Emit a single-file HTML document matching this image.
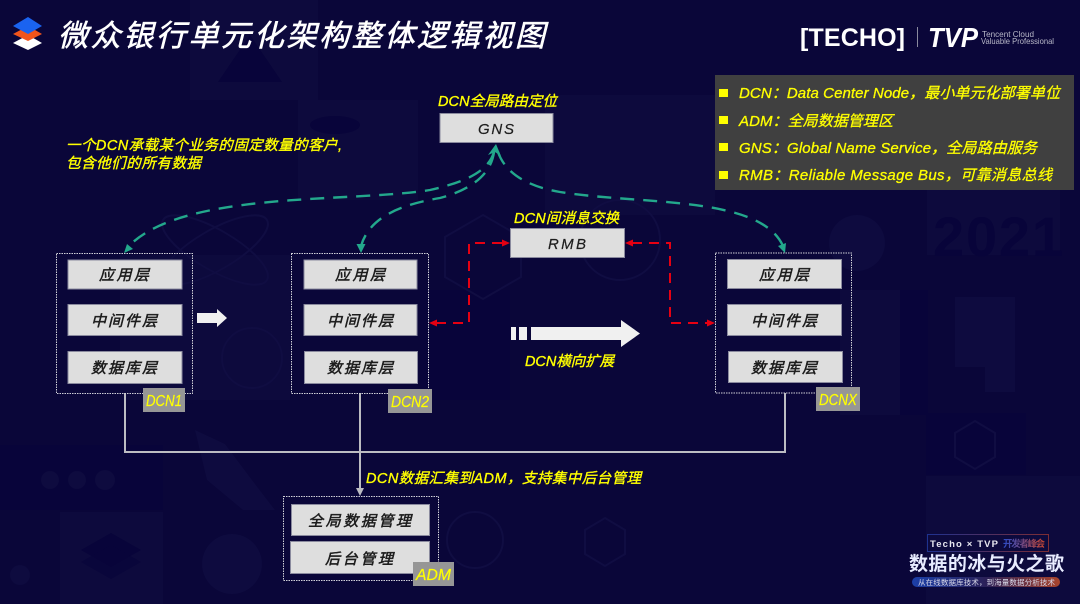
<!DOCTYPE html>
<html><head><meta charset="utf-8">
<style>
html,body{margin:0;padding:0;background:#0a0639;width:1080px;height:604px;overflow:hidden}
svg{display:block}
text{font-family:"Liberation Sans","Noto Sans CJK SC",sans-serif;font-style:italic}
.y{fill:#ffff00;font-size:14.5px;stroke:#ffff00;stroke-width:.35}
.l{fill:#ffff00;font-size:15px;stroke:#ffff00;stroke-width:.3}
.b{fill:#1c1c1c;font-size:15px;stroke:#1c1c1c;stroke-width:.5}
.box{fill:#dedede;stroke:#8a8a9e;stroke-width:1}
.dot{fill:none;stroke:#d0d0d8;stroke-width:1;stroke-dasharray:1.5 1}
.tag{fill:#969696}
.t{fill:#ffff00;font-size:16px;stroke:#ffff00;stroke-width:.2}
.g{fill:none;stroke:#23a88c;stroke-width:2.4;stroke-dasharray:14 9}
.r{fill:none;stroke:#e60012;stroke-width:2;stroke-dasharray:10 7}
</style></head><body>
<svg width="1080" height="604" viewBox="0 0 1080 604" xmlns="http://www.w3.org/2000/svg">
<defs>
<linearGradient id="pill" x1="0" x2="1" y1="0" y2="0"><stop offset="0" stop-color="#1c3fa8"/><stop offset=".5" stop-color="#2a2058"/><stop offset="1" stop-color="#a8442c"/></linearGradient>
<linearGradient id="pill2" x1="0" x2="1" y1="0" y2="0"><stop offset="0" stop-color="#2a4cc8"/><stop offset="1" stop-color="#c8452c"/></linearGradient>
</defs>
<rect width="1080" height="604" fill="#0a0639"/>
<!-- faint background tiles -->
<g fill="#0d0a3d">
<rect x="190" y="0" width="128" height="100"/>
<rect x="298" y="100" width="120" height="100"/>
<rect x="60" y="512" width="103" height="92"/>
<rect x="927" y="190" width="133" height="65"/>
<rect x="840" y="290" width="60" height="125"/>
<rect x="926" y="476" width="154" height="128"/>
<rect x="545" y="95" width="170" height="120"/>
<rect x="120" y="255" width="170" height="145"/>
</g>
<g fill="#08043a">
<rect x="0" y="445" width="163" height="65"/>
<rect x="900" y="290" width="28" height="125"/>
<rect x="926" y="413" width="100" height="62"/>
<rect x="420" y="290" width="90" height="110"/>
<path d="M250 35l-32 47h64z"/>
<ellipse cx="335" cy="125" rx="25" ry="9"/>
<path d="M111 533l30 17-30 17-30-17z"/>
<path d="M111 545l30 17-30 17-30-17z" opacity=".7"/>
</g>
<g fill="#0e0b3f">
<circle cx="50" cy="480" r="9"/><circle cx="77" cy="480" r="9"/><circle cx="105" cy="480" r="10"/>
<circle cx="232" cy="564" r="30"/>
<circle cx="857" cy="243" r="28"/>
<path d="M195 430l30 14 30 40 20 26h-32l-36-30z"/>
<path d="M955 297h60v95h-30v-25h-30z"/>
<circle cx="20" cy="575" r="10"/>
</g>
<g fill="none" stroke="#100d42" stroke-width="2">
<ellipse cx="215" cy="250" rx="60" ry="20" transform="rotate(30 215 250)"/>
<ellipse cx="215" cy="250" rx="60" ry="20" transform="rotate(-30 215 250)"/>
<path d="M483 215l38 22v40l-38 22-38-22v-40z"/>
<path d="M975 421l20 12v24l-20 12-20-12v-24z"/>
<path d="M605 518l20 12v24l-20 12-20-12v-24z"/>
<circle cx="475" cy="540" r="28"/>
<circle cx="252" cy="358" r="30"/>
<circle cx="620" cy="240" r="40"/>
</g>
<text x="933" y="256" font-size="56" font-weight="700" fill="#08043a" style="font-style:normal" textLength="130">2021</text>

<!-- logo -->
<path d="M13 43l15-8 14 8-14 7z" fill="#fff"/>
<path d="M13 34l15-8 14 8-14 7z" fill="#f2541b"/>
<path d="M13 26l15-9 14 9-14 8z" fill="#1a63f0"/>
<text x="58" y="46" font-size="30" fill="#fff" stroke="#fff" stroke-width=".6" textLength="487">微众银行单元化架构整体逻辑视图</text>

<!-- top right brand -->
<text x="800" y="46" font-size="25" font-weight="700" fill="#fff" style="font-style:normal" textLength="105" lengthAdjust="spacing">[TECHO]</text>
<rect x="917" y="27" width="1" height="20" fill="#8a8a9e"/>
<text x="928" y="47" font-size="28" font-weight="700" fill="#fff" textLength="50" lengthAdjust="spacingAndGlyphs">TVP</text>
<text x="982" y="37" font-size="8.500" fill="#b8b8c8" style="font-style:normal" textLength="52" lengthAdjust="spacingAndGlyphs">Tencent Cloud</text>
<text x="981" y="44" font-size="8.500" fill="#b8b8c8" style="font-style:normal" textLength="73" lengthAdjust="spacingAndGlyphs">Valuable Professional</text>

<!-- legend -->
<rect x="715" y="75" width="359" height="115" fill="#404040"/>
<g fill="#ffff00"><rect x="719" y="89" width="9" height="8"/><rect x="719" y="116" width="9" height="8"/><rect x="719" y="143" width="9" height="8"/><rect x="719" y="171" width="9" height="8"/></g>
<text class="l" x="739" y="98" textLength="321">DCN：Data Center Node，最小单元化部署单位</text>
<text class="l" x="739" y="126" textLength="154">ADM：全局数据管理区</text>
<text class="l" x="739" y="153" textLength="298">GNS：Global Name Service，全局路由服务</text>
<text class="l" x="739" y="180" textLength="313">RMB：Reliable Message Bus，可靠消息总线</text>

<!-- yellow captions -->
<text class="y" x="438" y="106" textLength="119">DCN全局路由定位</text>
<text class="y" x="66" y="150" textLength="276">一个DCN承载某个业务的固定数量的客户,</text>
<text class="y" x="66" y="168" textLength="135">包含他们的所有数据</text>
<text class="y" x="514" y="223" textLength="105">DCN间消息交换</text>
<text class="y" x="525" y="366" textLength="89">DCN横向扩展</text>
<text class="y" x="366" y="483" textLength="275">DCN数据汇集到ADM，支持集中后台管理</text>

<!-- GNS / RMB -->
<rect class="box" x="440" y="113.500" width="113" height="29"/>
<text class="b" x="478" y="134" textLength="36" style="stroke-width:.2">GNS</text>
<rect class="box" x="510.500" y="228.500" width="114" height="29"/>
<text class="b" x="548" y="249" textLength="38" style="stroke-width:.2">RMB</text>

<!-- gray bus lines -->
<g fill="none" stroke="#bcbcc2" stroke-width="2">
<path d="M125 393V452H785V393"/>
<path d="M360 393V488"/>
</g>
<path d="M356 488h8l-4 8z" fill="#bcbcc2"/>

<!-- DCN1 -->
<rect class="dot" x="56.500" y="253.500" width="136" height="140"/>
<rect class="box" x="68" y="260" width="114" height="29"/>
<rect class="box" x="68" y="304.500" width="114" height="31"/>
<rect class="box" x="68" y="351.500" width="114" height="32"/>
<text class="b" x="99" y="280" textLength="50">应用层</text>
<text class="b" x="91" y="326" textLength="66">中间件层</text>
<text class="b" x="91" y="373" textLength="66">数据库层</text>
<rect class="tag" x="143" y="388" width="42" height="24"/>
<text class="t" x="146" y="406" textLength="36" lengthAdjust="spacingAndGlyphs">DCN1</text>

<!-- DCN2 -->
<rect class="dot" x="291.500" y="253.500" width="137" height="140"/>
<rect class="box" x="304" y="260" width="113" height="29"/>
<rect class="box" x="304" y="304.500" width="113" height="31"/>
<rect class="box" x="304.500" y="351.500" width="113" height="32"/>
<text class="b" x="335" y="280" textLength="50">应用层</text>
<text class="b" x="327" y="326" textLength="66">中间件层</text>
<text class="b" x="327" y="373" textLength="66">数据库层</text>
<rect class="tag" x="388" y="389" width="44" height="24"/>
<text class="t" x="391" y="407" textLength="38" lengthAdjust="spacingAndGlyphs">DCN2</text>

<!-- DCNX -->
<rect class="dot" x="715.500" y="253" width="136" height="140"/>
<rect class="box" x="727.500" y="259.500" width="114" height="29"/>
<rect class="box" x="727.500" y="304.500" width="114" height="31"/>
<rect class="box" x="728.500" y="351.500" width="114" height="31"/>
<text class="b" x="759" y="280" textLength="50">应用层</text>
<text class="b" x="751" y="326" textLength="66">中间件层</text>
<text class="b" x="751" y="373" textLength="66">数据库层</text>
<rect class="tag" x="816" y="387" width="44" height="24"/>
<text class="t" x="819" y="405" textLength="38" lengthAdjust="spacingAndGlyphs">DCNX</text>

<!-- ADM -->
<rect class="dot" x="283.500" y="496.500" width="155" height="84"/>
<rect class="box" x="291.500" y="504.500" width="138" height="31"/>
<rect class="box" x="290.500" y="541.500" width="139" height="32"/>
<text class="b" x="308" y="526" textLength="103">全局数据管理</text>
<text class="b" x="325" y="564" textLength="68">后台管理</text>
<rect class="tag" x="413" y="562" width="41" height="24"/>
<text class="t" x="416" y="580" textLength="35" lengthAdjust="spacingAndGlyphs">ADM</text>

<!-- green dashed curves -->
<path class="g" d="M494 152C488 172 465 182 430 190C350 203 180 190 127 248"/>
<path class="g" d="M494 152C491 175 470 190 440 198C405 204 370 215 361 246"/>
<path class="g" d="M498 152C505 172 525 186 560 192C640 205 760 195 783 246"/>
<g fill="#23a88c">
<path d="M496 144l-8 11 7-3 6 4z"/>
<path d="M124 253l3-9 6 5z"/>
<path d="M361 253l-4.500-9h9z"/>
<path d="M785 253l-7-7 8-3z"/>
</g>

<!-- red dashed connectors -->
<path class="r" d="M436 323H469V243H503"/>
<path class="r" d="M632 243H670V323H708"/>
<g fill="#e60012">
<path d="M429 323l8-3.500v7z"/>
<path d="M510 243l-8-3.500v7z"/>
<path d="M625 243l8-3.500v7z"/>
<path d="M715 323l-8-3.500v7z"/>
</g>

<!-- white arrows -->
<path d="M197 313H217V309L227 318L217 327V323H197z" fill="#f0f0f0"/>
<g fill="#f0f0f0">
<rect x="511" y="327" width="5" height="13"/>
<rect x="519" y="327" width="8" height="13"/>
<path d="M531 327H621V320L640 333.500L621 347V340H531z"/>
</g>

<!-- bottom right badge -->
<rect x="927.500" y="534.500" width="121" height="17" fill="none" stroke="url(#pill2)" stroke-width="1" opacity=".6"/>
<text x="930" y="547" font-size="9.500" font-weight="700" fill="#e8e8f0" style="font-style:normal" textLength="68">Techo × TVP</text>
<text x="1003" y="547" font-size="9.500" font-weight="700" fill="url(#pill2)" style="font-style:normal" textLength="42">开发者峰会</text>
<text x="909" y="570" font-size="19" font-weight="700" fill="#e8ecff" style="font-style:normal" textLength="155">数据的冰与火之歌</text>
<rect x="912" y="577" width="148" height="10" rx="5" fill="url(#pill)"/>
<text x="918" y="585" font-size="7.500" fill="#d8d8e8" style="font-style:normal" textLength="137">从在线数据库技术，到海量数据分析技术</text>
</svg>
</body></html>
